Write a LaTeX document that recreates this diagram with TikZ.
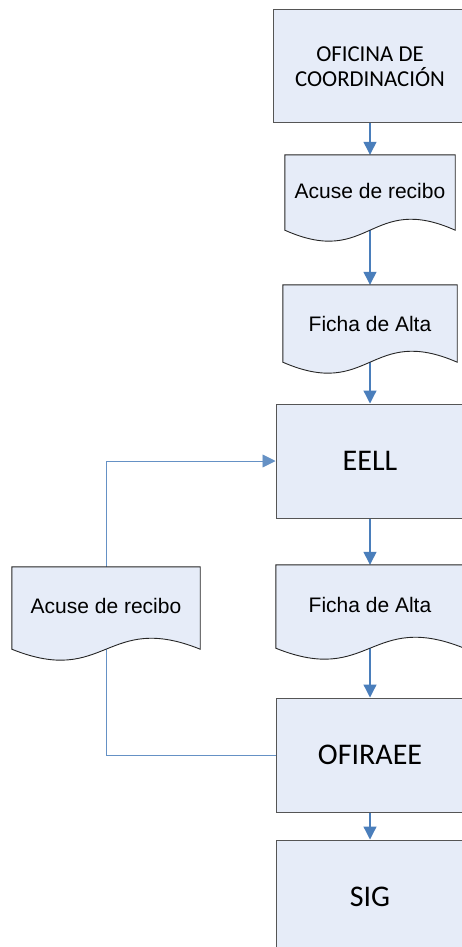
\documentclass[tikz,border=0pt]{standalone}
\usepackage{fontspec}
\setmainfont{Liberation Sans}
\newfontfamily\boxfont{Carlito}
\usetikzlibrary{arrows.meta,backgrounds}

\definecolor{boxfill}{HTML}{E6ECF8}
\definecolor{boxedge}{HTML}{555555}
\definecolor{flowblue}{HTML}{4A7EBB}

% wavy document outline round a named node
\newcommand{\docwave}[1]{%
  \filldraw[docedge] (#1.north west) -- (#1.north east) -- (#1.south east)
    .. controls ([yshift=38pt]#1.south) and ([yshift=-38pt]#1.south) .. (#1.south west) -- cycle;}

\begin{document}
\begin{tikzpicture}[x=1pt, y=-1pt,
    office/.style={draw=boxedge, line width=1pt, fill=boxfill, minimum width=188pt,
        minimum height=114pt, inner sep=0pt, font=\boxfont\fontsize{30}{36}\selectfont},
    docnode/.style={inner sep=0pt, font=\fontsize{21}{25}\selectfont},
    docedge/.style={draw=black!85, line width=0.9pt, fill=boxfill},
    flow/.style={flowblue, line width=1.3pt, -{Triangle[width=13pt,length=13pt]}},
    back/.style={flowblue!85, line width=0.9pt}]
    \useasboundingbox (0,0) rectangle (462,947);
    \clip (0,0) rectangle (462,947);

    % Offices
    \node[office, minimum width=194pt, minimum height=113pt, align=center,
        font=\boxfont\fontsize{22.8}{25.5}\selectfont] (ofc) at (370,66.5) {OFICINA DE\\COORDINACIÓN};
    \node[office] (eell) at (370,461) {EELL};
    \node[office] (ofiraee) at (370,755) {OFIRAEE};
    \node[office] (sig) at (370,897) {SIG};

    % Documents
    \node[docnode, minimum width=170pt, minimum height=75pt] (acuse1) at (370,192.5) {\raisebox{4pt}{Acuse de recibo}};
    \node[docnode, minimum width=174pt, minimum height=77pt] (ficha1) at (370,323.5) {Ficha de Alta};
    \node[docnode, minimum width=188pt, minimum height=83pt] (ficha2) at (370,606.5) {\raisebox{4pt}{Ficha de Alta}};
    \node[docnode, minimum width=188pt, minimum height=82pt] (acuse2) at (106,608) {\raisebox{5pt}{Acuse de recibo}};

    \begin{scope}[on background layer]
        \fill[white] (0,0) rectangle (462,947);

        % Arrows
        \draw[flow] (ofc.south) -- (acuse1.north);
        \draw[flow] (acuse1.south) -- (ficha1.north);
        \draw[flow] (ficha1.south) -- (eell.north);
        \draw[flow] (eell.south) -- (ficha2.north);
        \draw[flow] (ficha2.south) -- (ofiraee.north);
        \draw[flow] (ofiraee.south) -- (sig.north);

        % Return path
        \draw[back] (ofiraee.west) -| (acuse2.south);
        \draw[back, -{Triangle[width=13pt,length=13pt]}] (acuse2.north) |- (eell.west);

        % Document shapes
        \docwave{acuse1}
        \docwave{ficha1}
        \docwave{ficha2}
        \docwave{acuse2}
    \end{scope}
\end{tikzpicture}
\end{document}
